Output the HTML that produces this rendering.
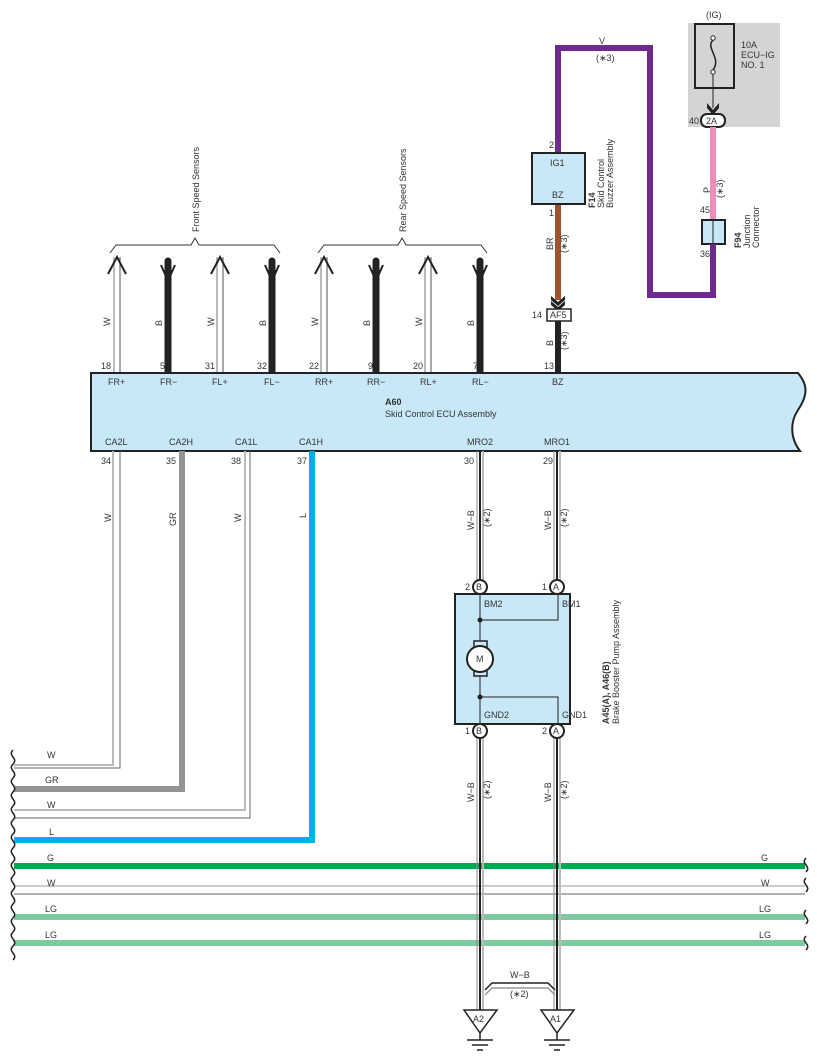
<!DOCTYPE html>
<html><head><meta charset="utf-8"><style>
html,body{margin:0;padding:0;background:#fff;}
svg{display:block;font-family:"Liberation Sans",sans-serif;}
text{font-size:9px;fill:#333;}
</style></head><body>
<svg width="817" height="1063" viewBox="0 0 817 1063" xmlns="http://www.w3.org/2000/svg">
<defs>
<g id="wup"><line x1="-3" y1="0" x2="-3" y2="-116" stroke="#bbb" stroke-width="2"/><line x1="3" y1="0" x2="3" y2="-116" stroke="#555" stroke-width="1"/><polyline points="-9,-99 0,-116 9,-99" fill="none" stroke="#222" stroke-width="2"/></g>
<g id="bup"><line x1="0" y1="0" x2="0" y2="-112" stroke="#222" stroke-width="7" stroke-linecap="round"/><polyline points="-7,-108 0,-92 7,-108" fill="none" stroke="#222" stroke-width="2"/></g>
<g id="wb"><line x1="-3" y1="0" x2="-3" y2="100" stroke="#888" stroke-width="1"/><line x1="0" y1="0" x2="0" y2="100" stroke="#222" stroke-width="2"/><line x1="3" y1="0" x2="3" y2="100" stroke="#bbb" stroke-width="2"/></g>
</defs>

<!-- fuse block -->
<rect x="688" y="23" width="92" height="104" fill="#d4d4d4"/>
<rect x="695" y="24" width="39" height="64" fill="none" stroke="#222" stroke-width="2"/>
<text x="706" y="18">(IG)</text>
<path d="M713,40 C705,48 722,58 713,70" fill="none" stroke="#222" stroke-width="1.5"/>
<circle cx="713" cy="38" r="2.2" fill="#fff" stroke="#222"/><circle cx="713" cy="72" r="2.2" fill="#fff" stroke="#222"/>
<line x1="713" y1="74" x2="713" y2="108" stroke="#222" stroke-width="1"/>
<path d="M707,103 L713,110 L719,103 L719,108 L713,115 L707,108Z" fill="#222"/>
<text x="741" y="48">10A</text><text x="741" y="58">ECU−IG</text><text x="741" y="68">NO. 1</text>
<rect x="701" y="114" width="24" height="13" rx="6" fill="#fff" stroke="#222" stroke-width="2"/>
<text x="706" y="124">2A</text><text x="689" y="124">40</text>

<!-- pink -->
<line x1="713" y1="127" x2="713" y2="220" stroke="#f08cbc" stroke-width="6"/>
<text transform="translate(710,193) rotate(-90)">P</text>
<text transform="translate(723,198) rotate(-90)">(∗3)</text>
<text x="700" y="213">45</text>
<rect x="702" y="220" width="23" height="24" fill="#c8e8f8" stroke="#222" stroke-width="2"/>
<line x1="713" y1="220" x2="713" y2="244" stroke="#222" stroke-width="1"/>
<text x="700" y="257">36</text>
<text transform="translate(741,248) rotate(-90)" style="font-weight:bold">F94</text>
<text transform="translate(750,248) rotate(-90)">Junction</text>
<text transform="translate(759,248) rotate(-90)">Connector</text>

<!-- purple -->
<polyline points="558,152 558,48 650,48 650,295 713,295 713,244" fill="none" stroke="#6e2a8e" stroke-width="6"/>
<text x="599" y="44">V</text><text x="596" y="61">(∗3)</text>

<!-- buzzer -->
<text x="549" y="148">2</text>
<rect x="532" y="153" width="53" height="51" fill="#c8e8f8" stroke="#222" stroke-width="2"/>
<text x="550" y="166">IG1</text><text x="552" y="198">BZ</text>
<text transform="translate(595,208) rotate(-90)" style="font-weight:bold">F14</text>
<text transform="translate(604,208) rotate(-90)">Skid Control</text>
<text transform="translate(613,208) rotate(-90)">Buzzer Assembly</text>
<text x="549" y="216">1</text>
<line x1="558" y1="205" x2="558" y2="300" stroke="#a0522d" stroke-width="6"/>
<text transform="translate(553,250) rotate(-90)">BR</text>
<text transform="translate(567,253) rotate(-90)">(∗3)</text>
<path d="M551,296 L558,302 L565,296 L565,300 L558,306 L551,300Z" fill="#222"/>
<path d="M551,301 L558,307 L565,301 L565,305 L558,311 L551,305Z" fill="#222"/>
<rect x="547" y="309" width="24" height="12" fill="#fff" stroke="#222" stroke-width="1.5"/>
<text x="550" y="318">AF5</text><text x="532" y="318">14</text>
<line x1="558" y1="321" x2="558" y2="373" stroke="#222" stroke-width="6"/>
<text transform="translate(553,346) rotate(-90)">B</text>
<text transform="translate(567,350) rotate(-90)">(∗3)</text>
<text x="544" y="369">13</text>

<!-- braces -->
<polyline points="110,253 116,245 191,245 195,238 199,245 274,245 280,253" fill="none" stroke="#333" stroke-width="1"/>
<polyline points="318,253 324,245 398,245 402,238 406,245 481,245 487,253" fill="none" stroke="#333" stroke-width="1"/>
<text transform="translate(199,232) rotate(-90)">Front Speed Sensors</text>
<text transform="translate(406,232) rotate(-90)">Rear Speed Sensors</text>

<!-- top wires -->
<use href="#wup" x="117" y="373"/><use href="#bup" x="168" y="373"/>
<use href="#wup" x="220" y="373"/><use href="#bup" x="272" y="373"/>
<use href="#wup" x="324" y="373"/><use href="#bup" x="376" y="373"/>
<use href="#wup" x="428" y="373"/><use href="#bup" x="480" y="373"/>
<g>
<text transform="translate(110,326) rotate(-90)">W</text><text transform="translate(162,326) rotate(-90)">B</text>
<text transform="translate(214,326) rotate(-90)">W</text><text transform="translate(266,326) rotate(-90)">B</text>
<text transform="translate(318,326) rotate(-90)">W</text><text transform="translate(370,326) rotate(-90)">B</text>
<text transform="translate(422,326) rotate(-90)">W</text><text transform="translate(474,326) rotate(-90)">B</text>
<text x="101" y="369">18</text><text x="160" y="369">5</text><text x="205" y="369">31</text><text x="257" y="369">32</text>
<text x="309" y="369">22</text><text x="368" y="369">9</text><text x="413" y="369">20</text><text x="473" y="369">7</text>
</g>

<!-- ECU -->
<path d="M91,373 L798,373 C808,385 808,395 798,410 C790,422 790,438 800,451 L91,451Z" fill="#c8e8f8" stroke="#222" stroke-width="2"/>
<text x="108" y="385">FR+</text><text x="160" y="385">FR−</text><text x="212" y="385">FL+</text><text x="264" y="385">FL−</text>
<text x="315" y="385">RR+</text><text x="367" y="385">RR−</text><text x="420" y="385">RL+</text><text x="472" y="385">RL−</text>
<text x="552" y="385">BZ</text>
<text x="385" y="405" style="font-weight:bold">A60</text>
<text x="385" y="417">Skid Control ECU Assembly</text>
<text x="105" y="445">CA2L</text><text x="169" y="445">CA2H</text><text x="235" y="445">CA1L</text><text x="299" y="445">CA1H</text>
<text x="467" y="445">MRO2</text><text x="544" y="445">MRO1</text>
<text x="101" y="464">34</text><text x="166" y="464">35</text><text x="231" y="464">38</text><text x="297" y="464">37</text>
<text x="464" y="464">30</text><text x="543" y="464">29</text>

<!-- bottom left wires -->
<polyline points="113,451 113,765 14,765" fill="none" stroke="#bbb" stroke-width="2"/>
<polyline points="120,451 120,768 14,768" fill="none" stroke="#666" stroke-width="1"/>
<polyline points="182,451 182,789 14,789" fill="none" stroke="#939393" stroke-width="6"/>
<polyline points="245,451 245,810 14,810" fill="none" stroke="#bbb" stroke-width="2"/>
<polyline points="250,451 250,818 14,818" fill="none" stroke="#666" stroke-width="1"/>
<polyline points="312,451 312,840 14,840" fill="none" stroke="#00aeef" stroke-width="6"/>
<line x1="14" y1="866" x2="805" y2="866" stroke="#00a651" stroke-width="6"/>
<line x1="14" y1="886" x2="805" y2="886" stroke="#999" stroke-width="1"/>
<line x1="14" y1="894" x2="805" y2="894" stroke="#666" stroke-width="1"/>
<line x1="14" y1="917" x2="805" y2="917" stroke="#80c8a0" stroke-width="6"/>
<line x1="14" y1="943" x2="805" y2="943" stroke="#80c8a0" stroke-width="6"/>
<text transform="translate(111,522) rotate(-90)">W</text>
<text transform="translate(176,526) rotate(-90)">GR</text>
<text transform="translate(241,522) rotate(-90)">W</text>
<text transform="translate(306,518) rotate(-90)">L</text>
<text x="47" y="758">W</text><text x="45" y="783">GR</text><text x="47" y="808">W</text><text x="49" y="835">L</text>
<text x="47" y="861">G</text><text x="47" y="886">W</text><text x="45" y="912">LG</text><text x="45" y="938">LG</text>
<text x="761" y="861">G</text><text x="761" y="886">W</text><text x="759" y="912">LG</text><text x="759" y="938">LG</text>
<path d="M13,750 c-6,6 6,8 0,14 c-6,6 6,8 0,14 c-6,6 6,8 0,14 c-6,6 6,8 0,14 c-6,6 6,8 0,14 c-6,6 6,8 0,14 c-6,6 6,8 0,14 c-6,6 6,8 0,14 c-6,6 6,8 0,14 c-6,6 6,8 0,14 c-6,6 6,8 0,14 c-6,6 6,8 0,14 c-6,6 6,8 0,14 c-6,6 6,8 0,14 c-6,6 6,8 0,14" fill="none" stroke="#222" stroke-width="1.5"/>
<path d="M806,858 c-6,6 6,8 0,14 M806,878 c-6,6 6,8 0,14 M806,910 c-6,6 6,8 0,14 M806,936 c-6,6 6,8 0,14" fill="none" stroke="#222" stroke-width="1.5"/>

<!-- W-B wires -->
<use href="#wb" x="480" y="451" transform="scale(1,1)"/>
<g transform="translate(480,451) scale(1,1.3)"><use href="#wb"/></g>
<g transform="translate(557,451) scale(1,1.3)"><use href="#wb"/></g>
<g transform="translate(480,738) scale(1,2.8)"><use href="#wb"/></g>
<g transform="translate(557,738) scale(1,2.8)"><use href="#wb"/></g>
<text transform="translate(474,530) rotate(-90)">W−B</text><text transform="translate(490,527) rotate(-90)">(∗2)</text>
<text transform="translate(551,530) rotate(-90)">W−B</text><text transform="translate(567,527) rotate(-90)">(∗2)</text>
<text transform="translate(474,802) rotate(-90)">W−B</text><text transform="translate(490,799) rotate(-90)">(∗2)</text>
<text transform="translate(551,802) rotate(-90)">W−B</text><text transform="translate(567,799) rotate(-90)">(∗2)</text>

<!-- pump -->
<rect x="455" y="594" width="115" height="130" fill="#c8e8f8" stroke="#222" stroke-width="2"/>
<polyline points="480,594 480,724" fill="none" stroke="#222" stroke-width="1"/>
<polyline points="480,620 558,620 558,594" fill="none" stroke="#222" stroke-width="1"/>
<polyline points="480,697 558,697 558,724" fill="none" stroke="#222" stroke-width="1"/>
<circle cx="480" cy="620" r="2.5" fill="#222"/><circle cx="480" cy="697" r="2.5" fill="#222"/>
<rect x="474" y="641" width="13" height="35" fill="#c8e8f8" stroke="#222" stroke-width="1.5"/>
<circle cx="480" cy="659" r="13" fill="#fff" stroke="#222" stroke-width="2"/>
<text x="476" y="662">M</text>
<text x="484" y="607">BM2</text><text x="562" y="607">BM1</text>
<text x="484" y="718">GND2</text><text x="562" y="718">GND1</text>
<text transform="translate(609,724) rotate(-90)" style="font-weight:bold">A45(A), A46(B)</text>
<text transform="translate(619,724) rotate(-90)">Brake Booster Pump Assembly</text>
<g stroke="#222" stroke-width="2" fill="#fff">
<circle cx="480" cy="587" r="7"/><circle cx="557" cy="587" r="7"/>
<circle cx="480" cy="731" r="7"/><circle cx="557" cy="731" r="7"/></g>
<text x="476" y="590">B</text><text x="553" y="590">A</text><text x="476" y="734">B</text><text x="553" y="734">A</text>
<text x="465" y="590">2</text><text x="542" y="590">1</text><text x="465" y="734">1</text><text x="542" y="734">2</text>

<!-- shield + grounds -->
<polyline points="485,990 492,983 548,983 555,990" fill="none" stroke="#222" stroke-width="1.5"/>
<polyline points="485,995 492,988 548,988 555,995" fill="none" stroke="#999" stroke-width="1.5"/>
<text x="510" y="978">W−B</text><text x="510" y="997">(∗2)</text>
<g stroke="#222" stroke-width="1.5" fill="#fff">
<path d="M464,1010 L497,1010 L480,1033Z"/><path d="M541,1010 L574,1010 L557,1033Z"/></g>
<text x="473" y="1022">A2</text><text x="550" y="1022">A1</text>
<g stroke="#222" stroke-width="1.5">
<line x1="480" y1="1033" x2="480" y2="1040"/><line x1="467" y1="1040" x2="493" y2="1040"/><line x1="472" y1="1045" x2="488" y2="1045"/><line x1="477" y1="1050" x2="483" y2="1050"/>
<line x1="557" y1="1033" x2="557" y2="1040"/><line x1="544" y1="1040" x2="570" y2="1040"/><line x1="549" y1="1045" x2="565" y2="1045"/><line x1="554" y1="1050" x2="560" y2="1050"/></g>
</svg>
</body></html>
